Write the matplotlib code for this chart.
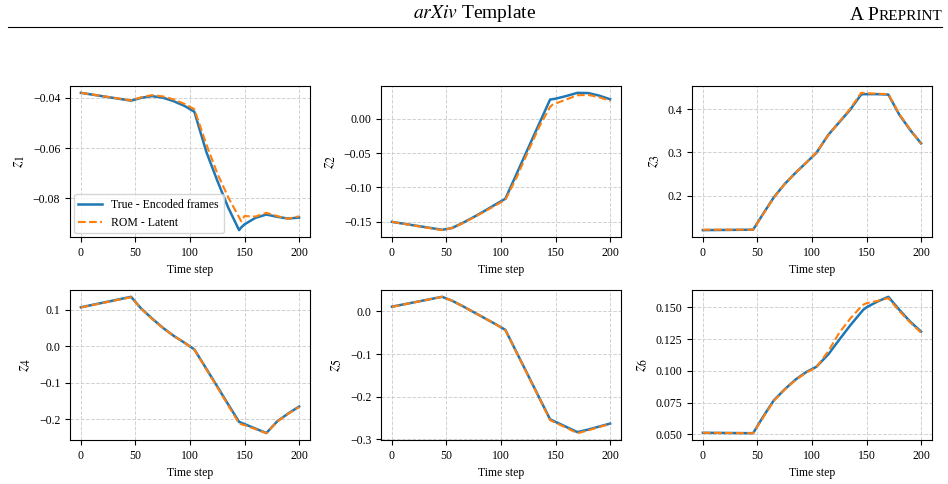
import matplotlib
matplotlib.use("Agg")
import matplotlib.pyplot as plt
from matplotlib.ticker import MultipleLocator

plt.rcParams['font.family'] = ['Liberation Serif', 'DejaVu Serif']
plt.rcParams['mathtext.fontset'] = 'stix'
plt.rcParams['font.size'] = 8.5

# ---- data ----
time_steps = [0, 46, 55, 65, 75, 85, 95, 104, 115, 125, 135, 145, 147, 150, 160, 170, 180, 190, 200]

z1_true = [-0.0380, -0.0411, -0.0400, -0.0393, -0.0399, -0.0413, -0.0432, -0.0455, -0.0615, -0.0729,
           -0.0836, -0.0926, -0.0915, -0.0903, -0.0877, -0.0864, -0.0873, -0.0880, -0.0876]
z1_rom = [-0.0380, -0.0410, -0.0398, -0.0389, -0.0394, -0.0406, -0.0424, -0.0445, -0.0585, -0.0700,
          -0.0795, -0.0875, -0.0891, -0.0870, -0.0872, -0.0857, -0.0870, -0.0881, -0.0871]

z2_true = [-0.150, -0.1615, -0.159, -0.1514, -0.143, -0.134, -0.1246, -0.1164, -0.0777, -0.0425,
           -0.0073, 0.0278, 0.0283, 0.0290, 0.0330, 0.0375, 0.0372, 0.0335, 0.0282]
z2_rom = [-0.150, -0.1620, -0.159, -0.1520, -0.1435, -0.135, -0.1260, -0.1180, -0.0830, -0.0470,
          -0.0120, 0.0170, 0.0200, 0.0220, 0.0280, 0.0340, 0.0345, 0.0310, 0.0260]

z3_true = [0.120, 0.121, 0.157, 0.196, 0.227, 0.253, 0.277, 0.299, 0.341, 0.370,
           0.399, 0.434, 0.435, 0.435, 0.435, 0.434, 0.3875, 0.352, 0.321]
z3_rom = [0.121, 0.121, 0.156, 0.195, 0.227, 0.253, 0.277, 0.300, 0.340, 0.371,
          0.401, 0.438, 0.438, 0.437, 0.436, 0.435, 0.389, 0.353, 0.320]

z4_true = [0.1073, 0.136, 0.1046, 0.077, 0.0514, 0.029, 0.010, -0.0083, -0.0616, -0.110,
           -0.159, -0.207, -0.2095, -0.213, -0.2254, -0.2376, -0.2055, -0.184, -0.165]
z4_rom = [0.1070, 0.135, 0.1040, 0.076, 0.0510, 0.029, 0.010, -0.0090, -0.0630, -0.112,
          -0.162, -0.211, -0.2135, -0.216, -0.2270, -0.2380, -0.2060, -0.185, -0.166]

z5_true = [0.0109, 0.034, 0.025, 0.012, -0.002, -0.016, -0.030, -0.0435, -0.0997, -0.1508,
           -0.202, -0.253, -0.2554, -0.259, -0.271, -0.283, -0.277, -0.270, -0.263]
z5_rom = [0.0105, 0.034, 0.025, 0.012, -0.002, -0.016, -0.030, -0.0440, -0.1005, -0.1515,
          -0.203, -0.255, -0.2575, -0.261, -0.273, -0.2855, -0.279, -0.271, -0.264]

z6_true = [0.0513, 0.0510, 0.0637, 0.0768, 0.0855, 0.0932, 0.0992, 0.1032, 0.1130, 0.1245,
           0.1357, 0.1460, 0.1480, 0.1500, 0.1545, 0.1582, 0.1480, 0.1387, 0.1308]
z6_rom = [0.0513, 0.0510, 0.0630, 0.0765, 0.0853, 0.0928, 0.0988, 0.1028, 0.1155, 0.1300,
          0.1410, 0.1505, 0.1520, 0.1532, 0.1550, 0.1571, 0.1471, 0.1380, 0.1300]

true_series = [z1_true, z2_true, z3_true, z4_true, z5_true, z6_true]
rom_series = [z1_rom, z2_rom, z3_rom, z4_rom, z5_rom, z6_rom]
ylabels = [r"$z_1$", r"$z_2$", r"$z_3$", r"$z_4$", r"$z_5$", r"$z_6$"]
ytick_steps = [0.02, 0.05, 0.1, 0.1, 0.1, 0.025]
xlabel = "Time step"
legend_labels = ["True - Encoded frames", "ROM - Latent"]

# ---- figure ----
W, H = 948, 484
fig = plt.figure(figsize=(W / 100, H / 100), dpi=100)

lefts = [70, 381, 692]
rows = [(86, 237), (290, 440)]
axw = 240

for i in range(6):
    r, c = divmod(i, 3)
    top, bot = rows[r]
    ax = fig.add_axes([lefts[c] / W, 1 - bot / H, axw / W, (bot - top) / H])
    ax.plot(time_steps, true_series[i], color='#1f77b4', lw=1.8, label=legend_labels[0])
    ax.plot(time_steps, rom_series[i], color='#ff7f0e', lw=1.5, ls='--', label=legend_labels[1])
    ax.grid(True, ls='--', color='#cccccc', lw=0.7, alpha=0.9)
    ax.set_axisbelow(True)
    ax.set_xlabel(xlabel)
    ax.set_ylabel(ylabels[i], fontsize=12)
    ax.yaxis.set_major_locator(MultipleLocator(ytick_steps[i]))
    ax.xaxis.set_major_locator(MultipleLocator(50))
    if i == 0:
        ax.legend(loc='lower left', fontsize=8.5, framealpha=0.8, borderaxespad=0.3)

# ---- page header ----
fig.text(475 / W, 1 - 14 / H, r"$\mathit{arXiv}$ Template", ha='center', va='center', fontsize=14)
fig.canvas.draw()
renderer = fig.canvas.get_renderer()
t_small = fig.text(942 / W, 1 - 20 / H, "REPRINT", ha='right', va='baseline', fontsize=11)
bb = t_small.get_window_extent(renderer)
fig.text(bb.x0 / W, 1 - 20 / H, "A P", ha='right', va='baseline', fontsize=14)
fig.add_artist(plt.Line2D([8 / W, 942 / W], [1 - 27 / H, 1 - 27 / H], color='black', lw=0.8,
                          transform=fig.transFigure))

fig.savefig("out.png", dpi=100)
